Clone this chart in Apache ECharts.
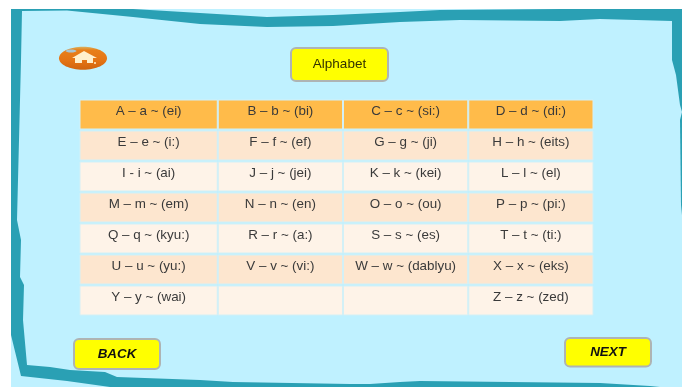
<!DOCTYPE html>
<html>
<head>
<meta charset="utf-8">
<title>Alphabet</title>
<style>
  html, body { margin: 0; padding: 0; background: #fff; }
  #main { width: 682px; height: 387px; }
</style>
<script src="https://cdn.jsdelivr.net/npm/echarts@6/dist/echarts.min.js"></script>
</head>
<body>
<div id="main"></div>
<script>
// table content, one list per column
var rows = ['r1', 'r2', 'r3', 'r4', 'r5', 'r6', 'r7'];
var col1 = ['A – a ~ (ei)', 'E – e ~ (i:)', 'I - i ~ (ai)', 'M – m ~ (em)', 'Q – q ~ (kyu:)', 'U – u ~ (yu:)', 'Y – y ~ (wai)'];
var col2 = ['B – b ~ (bi)', 'F – f ~ (ef)', 'J – j ~ (jei)', 'N – n ~ (en)', 'R – r ~ (a:)', 'V – v ~ (vi:)', ''];
var col3 = ['C – c ~ (si:)', 'G – g ~ (ji)', 'K – k ~ (kei)', 'O – o ~ (ou)', 'S – s ~ (es)', 'W – w ~ (dablyu)', ''];
var col4 = ['D – d ~ (di:)', 'H – h ~ (eits)', 'L – l ~ (el)', 'P – p ~ (pi:)', 'T – t ~ (ti:)', 'X – x ~ (eks)', 'Z – z ~ (zed)'];
var colSpans = [138, 125, 125, 125];

var FONT = '"Liberation Sans", Arial, sans-serif';
var TEAL = '#2aa0b4';

function rowColor(i) {
  if (i === 0) return '#ffbb4a';
  return i % 2 === 1 ? '#fde6cf' : '#fef3e8';
}

function makeColumn(labels, span) {
  return {
    type: 'bar',
    stack: 'table',
    barWidth: 30,
    silent: true,
    data: rows.map(function () { return span; }),
    itemStyle: {
      color: function (p) { return rowColor(p.dataIndex); },
      borderColor: '#d3f0f6',
      borderWidth: 1
    },
    label: {
      show: true,
      position: 'inside',
      offset: [0, -3.5],
      fontFamily: FONT,
      fontSize: 13.4,
      color: '#3a3a3a',
      formatter: function (p) { return labels[p.dataIndex]; }
    }
  };
}

function button(x, y, w, h, r, text, fontStyle) {
  return {
    type: 'rect',
    shape: { x: x, y: y, width: w, height: h, r: r },
    style: { fill: '#ffff00', stroke: '#aeb4b4', lineWidth: 2 },
    textContent: {
      style: {
        text: text,
        fontFamily: FONT,
        fontSize: fontStyle ? 13.4 : 13.5,
        fontWeight: fontStyle ? 'bold' : 'normal',
        fontStyle: fontStyle || 'normal',
        fill: fontStyle ? '#111' : '#333300'
      }
    },
    textConfig: { position: 'inside' }
  };
}

function band(points) {
  return { type: 'polygon', shape: { points: points }, style: { fill: TEAL } };
}

var chart = echarts.init(document.getElementById('main'), null, { renderer: 'canvas' });

chart.setOption({
  animation: false,
  tooltip: { show: false },
  grid: { left: 79.5, top: 99, width: 514, height: 217 },
  xAxis: { type: 'value', min: 0, max: 513, show: false },
  yAxis: { type: 'category', data: rows, inverse: true, show: false },
  series: [
    makeColumn(col1, colSpans[0]),
    makeColumn(col2, colSpans[1]),
    makeColumn(col3, colSpans[2]),
    makeColumn(col4, colSpans[3])
  ],
  graphic: [
    // page background and hand drawn frame
    { type: 'rect', z: -10, shape: { x: 11, y: 9, width: 671, height: 378 }, style: { fill: '#bff1ff' } },
    { type: 'group', z: -9, children: [
      band([[11, 9], [133, 9], [200, 13], [267, 17], [333, 15], [400, 12], [440, 10], [560, 9], [682, 9], [682, 112],
            [680, 105], [676, 75], [672, 60], [672, 21], [600, 19], [560, 21], [460, 20], [400, 22], [333, 26], [267, 27],
            [200, 24], [133, 17], [67, 10.5], [22, 11], [21, 60], [17, 220], [21, 240], [20, 277], [24, 285], [23, 320],
            [27, 365], [50, 367], [70, 370], [105, 372], [117, 377], [200, 380], [233, 382], [350, 384],
            [370, 384], [400, 382], [420, 381], [600, 383], [650, 386], [660, 387], [110, 387], [67, 381], [21, 376],
            [11, 335]]),
      band([[682, 112], [680, 120], [681, 205], [682, 215]])
    ] },

    // home icon
    { type: 'ellipse', shape: { cx: 83, cy: 58.3, rx: 24, ry: 11.5 }, style: {
      fill: new echarts.graphic.LinearGradient(0, 0, 0, 1, [
        { offset: 0, color: '#d8b060' }, { offset: 0.14, color: '#e8801a' }, { offset: 0.6, color: '#e47414' }, { offset: 1, color: '#d0640e' }
      ]) } },
    { type: 'ellipse', shape: { cx: 71, cy: 51, rx: 5.5, ry: 1.5 }, style: { fill: '#a9c6d2' } },
    { type: 'polygon', shape: { points: [[84, 51], [97, 58], [93, 58], [93, 63], [87, 63], [87, 60], [82, 60], [82, 63], [75, 63], [75, 58], [72, 58]] }, style: { fill: '#fff0cc' } },
    { type: 'circle', shape: { cx: 95, cy: 63, r: 1 }, style: { fill: '#fff0cc' } },

    button(291, 48, 97, 33, 5, 'Alphabet'),
    button(74, 339, 86, 30, 5, 'BACK', 'italic'),
    button(565, 338, 86, 28.5, 5, 'NEXT', 'italic')
  ]
});
</script>
</body>
</html>
